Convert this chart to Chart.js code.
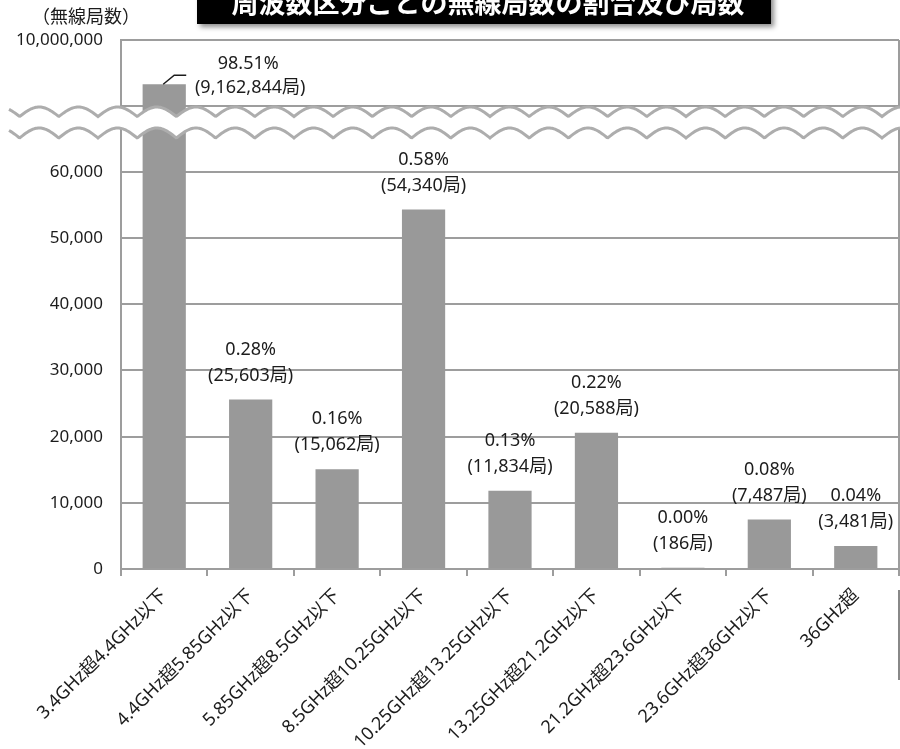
<!DOCTYPE html>
<html lang="ja">
<head>
<meta charset="utf-8">
<title>周波数区分ごとの無線局数の割合及び局数</title>
<script src="https://cdn.jsdelivr.net/npm/chart.js@4.4.1/dist/chart.umd.min.js"></script>
<style>
  html, body { margin: 0; padding: 0; background: #fff; }
  #wrap { width: 900px; height: 749px; }
</style>
</head>
<body>
<div id="wrap"><canvas id="bandChart" width="900" height="749"></canvas></div>
<script>
const categories = [
  "3.4GHz超4.4GHz以下",
  "4.4GHz超5.85GHz以下",
  "5.85GHz超8.5GHz以下",
  "8.5GHz超10.25GHz以下",
  "10.25GHz超13.25GHz以下",
  "13.25GHz超21.2GHz以下",
  "21.2GHz超23.6GHz以下",
  "23.6GHz超36GHz以下",
  "36GHz超",
];
const stationCounts = [9162844, 25603, 15062, 54340, 11834, 20588, 186, 7487, 3481];
const shares = ["98.51", "0.28", "0.16", "0.58", "0.13", "0.22", "0.00", "0.08", "0.04"];
const yTicks = [0, 10000, 20000, 30000, 40000, 50000, 60000, 8750000, 10000000];

const LOW_MAX = 60000;      // top labelled tick of the lower panel
const HIGH_MIN = 8750000;   // bottom of the upper panel (unlabelled line)
const Y_MAX = 10000000;

const FONT = '"Noto Sans", "Noto Sans CJK JP", sans-serif';
const GRID = "#9d9d9d";
const TEXT = "#1c1c1c";

// linear scale with a break between the lower and the upper panel
class BrokenLinearScale extends Chart.LinearScale {
  buildTicks() {
    return yTicks.map(v => ({ value: v }));
  }
  toDecimal(v) {
    const s = this.options.split;
    if (v < HIGH_MIN) return (v / LOW_MAX) * s.lowFrac;
    return s.highFrac + ((v - HIGH_MIN) / (Y_MAX - HIGH_MIN)) * (1 - s.highFrac);
  }
  getPixelForValue(v) {
    return this.getPixelForDecimal(this.toDecimal(v));
  }
  getValueForPixel(p) {
    const s = this.options.split;
    const d = this.getDecimalForPixel(p);
    if (d < s.highFrac) return (d / s.lowFrac) * LOW_MAX;
    return HIGH_MIN + ((d - s.highFrac) / (1 - s.highFrac)) * (Y_MAX - HIGH_MIN);
  }
}
BrokenLinearScale.id = "brokenLinear";
BrokenLinearScale.defaults = {};
Chart.register(BrokenLinearScale);

// wavy break, right border, bar labels, title box
const decorations = {
  id: "decorations",
  afterDatasetsDraw(chart) {
    const { ctx, chartArea } = chart;
    const W = chart.width;

    ctx.save();
    ctx.strokeStyle = GRID;
    ctx.lineWidth = 2;
    ctx.beginPath();
    ctx.moveTo(chartArea.right, chartArea.top);
    ctx.lineTo(chartArea.right, chartArea.bottom);
    ctx.stroke();

    // two wave lines, white between them
    const period = 39.2, phase = 19.6;
    const wave = (x, base, amp) => base - amp * Math.abs(Math.sin(Math.PI * (x - phase) / period));
    const x0 = 9, x1 = W;
    ctx.beginPath();
    for (let x = x0; x <= x1; x++) {
      const y = wave(x, 116.5, 9.5);
      x === x0 ? ctx.moveTo(x, y) : ctx.lineTo(x, y);
    }
    for (let x = x1; x >= x0; x--) ctx.lineTo(x, wave(x, 138, 10));
    ctx.closePath();
    ctx.fillStyle = "#fff";
    ctx.fill();

    ctx.strokeStyle = "#adadad";
    ctx.lineWidth = 3;
    [[116.5, 9.5], [138, 10]].forEach(([base, amp]) => {
      ctx.beginPath();
      for (let x = x0; x <= x1; x++) {
        const y = wave(x, base, amp);
        x === x0 ? ctx.moveTo(x, y) : ctx.lineTo(x, y);
      }
      ctx.stroke();
    });

    // stray frame line at the bottom right of the original
    ctx.strokeStyle = "#888";
    ctx.lineWidth = 2;
    ctx.beginPath();
    ctx.moveTo(899, 590);
    ctx.lineTo(899, 680);
    ctx.stroke();

    // value labels
    const meta = chart.getDatasetMeta(0);
    ctx.fillStyle = TEXT;
    ctx.font = "18px " + FONT;
    ctx.textAlign = "center";
    ctx.textBaseline = "middle";
    meta.data.forEach((bar, i) => {
      const line1 = shares[i] + "%";
      const line2 = "(" + stationCounts[i].toLocaleString("en-US") + "局)";
      if (bar.y - chartArea.top < 60) {
        // no room above: put it to the right with a leader line
        ctx.strokeStyle = TEXT;
        ctx.lineWidth = 1.5;
        ctx.beginPath();
        ctx.moveTo(bar.x - 1, bar.y);
        ctx.lineTo(bar.x + 10, bar.y - 9);
        ctx.lineTo(bar.x + 22, bar.y - 9);
        ctx.stroke();
        ctx.fillText(line1, bar.x + 84, bar.y - 20);
        ctx.fillText(line2, bar.x + 86, bar.y + 4);
      } else {
        ctx.fillText(line1, bar.x, bar.y - 50);
        ctx.fillText(line2, bar.x, bar.y - 24);
      }
    });
    ctx.restore();
  },
  afterDraw(chart) {
    const { ctx } = chart;
    ctx.save();
    // title box, cut by the top edge
    ctx.shadowColor = "rgba(0,0,0,0.45)";
    ctx.shadowBlur = 5;
    ctx.shadowOffsetX = 3;
    ctx.shadowOffsetY = 3;
    ctx.fillStyle = "#000";
    ctx.fillRect(197, -10, 574, 34);
    ctx.shadowColor = "transparent";
    ctx.fillStyle = "#fff";
    ctx.font = 'bold 27px "Noto Sans CJK JP", sans-serif';
    ctx.textAlign = "center";
    ctx.textBaseline = "middle";
    ctx.fillText("周波数区分ごとの無線局数の割合及び局数", 488, 3);

    // axis unit
    ctx.fillStyle = TEXT;
    ctx.font = '18px "Noto Sans CJK JP", sans-serif';
    ctx.fillText("（無線局数）", 86, 16);
    ctx.restore();
  },
};

new Chart("bandChart", {
  type: "bar",
  data: {
    labels: categories,
    datasets: [
      {
        data: stationCounts,
        backgroundColor: "#999999",
        borderWidth: 0,
        categoryPercentage: 1,
        barPercentage: 0.5,
      },
    ],
  },
  options: {
    responsive: false,
    animation: false,
    layout: { padding: { top: 40, right: 1, left: 0, bottom: 0 } },
    plugins: {
      legend: { display: false },
      tooltip: { enabled: false },
    },
    scales: {
      x: {
        grid: {
          display: true,
          drawOnChartArea: false,
          drawTicks: true,
          tickLength: 7,
          color: GRID,
          lineWidth: 2,
          offset: true,
        },
        border: { color: GRID, width: 2 },
        ticks: {
          autoSkip: false,
          minRotation: 45,
          maxRotation: 45,
          padding: 9,
          color: TEXT,
          font: { size: 18, family: FONT },
        },
        afterFit: scale => {
          scale.height = 180;
        },
      },
      y: {
        type: "brokenLinear",
        min: 0,
        max: Y_MAX,
        split: { lowFrac: 0.7505, highFrac: 0.8752 },
        grid: { color: GRID, lineWidth: 2, drawTicks: false },
        border: { color: GRID, width: 2 },
        ticks: {
          autoSkip: false,
          padding: 18,
          color: TEXT,
          font: { size: 17, family: FONT },
          callback: value => (value === HIGH_MIN ? "" : value.toLocaleString("en-US")),
        },
        afterFit: scale => {
          scale.width = 121;
        },
      },
    },
  },
  plugins: [decorations],
});
</script>
</body>
</html>
